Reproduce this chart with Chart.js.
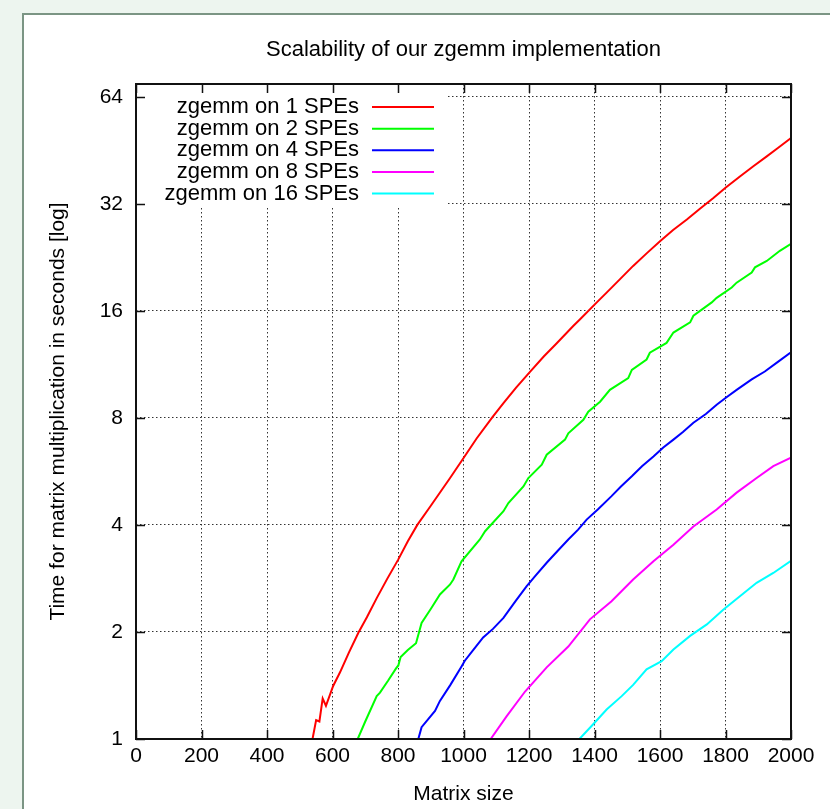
<!DOCTYPE html>
<html>
<head>
<meta charset="utf-8">
<script src="https://cdn.jsdelivr.net/npm/chart.js@4.4.1/dist/chart.umd.min.js"></script>
<style>
  html, body { margin: 0; padding: 0; background: #edf5ef; overflow: hidden; }
  #panel {
    position: absolute; left: 22px; top: 13px; width: 820px; height: 810px;
    background: #fff; border: 2px solid #7b9584;
  }
  #c { position: absolute; left: 0; top: 0; }
</style>
</head>
<body>
<div id="panel"></div>
<canvas id="c" width="830" height="809"></canvas>
<script>
const FONT = "'Liberation Sans', Arial, Helvetica, sans-serif";

// tick labels
const xTicks = [0, 200, 400, 600, 800, 1000, 1200, 1400, 1600, 1800, 2000];
const yTicks = [1, 2, 4, 8, 16, 32, 64];

// series (matrix size, seconds)
const size1 = [539, 550, 560, 570, 580, 602, 623, 650, 679, 705, 735, 767, 801, 830, 859, 898, 959, 994, 1040, 1089, 1122, 1160, 1203, 1245, 1284, 1335, 1356, 1407, 1437, 1478, 1518, 1560, 1600, 1640, 1682, 1720, 1763, 1800, 1844, 1885, 1926, 1960, 2000];
const time1 = [1.0, 1.13, 1.12, 1.30, 1.24, 1.41, 1.54, 1.75, 1.99, 2.2, 2.49, 2.82, 3.2, 3.6, 4.0, 4.5, 5.42, 6.05, 7.0, 8.05, 8.8, 9.72, 10.78, 11.9, 12.95, 14.5, 15.15, 16.9, 18.0, 19.65, 21.4, 23.25, 25.1, 27.0, 28.9, 30.9, 33.2, 35.5, 38.2, 40.8, 43.5, 45.9, 49.0];

const size2 = [677, 700, 735, 745, 770, 794, 801, 808, 830, 855, 872, 900, 928, 959, 969, 994, 1050, 1066, 1122, 1137, 1183, 1198, 1239, 1254, 1310, 1320, 1366, 1381, 1417, 1447, 1503, 1514, 1559, 1569, 1620, 1641, 1692, 1702, 1758, 1773, 1819, 1834, 1880, 1890, 1926, 1966, 2000];
const time2 = [1.0, 1.12, 1.32, 1.35, 1.46, 1.58, 1.61, 1.70, 1.78, 1.86, 2.12, 2.32, 2.55, 2.72, 2.81, 3.16, 3.64, 3.84, 4.37, 4.61, 5.13, 5.42, 5.91, 6.3, 6.95, 7.24, 7.9, 8.33, 8.88, 9.59, 10.35, 10.92, 11.67, 12.2, 13.0, 13.9, 14.85, 15.5, 16.9, 17.4, 18.6, 19.2, 20.5, 21.2, 22.1, 23.6, 24.7];

const size4 = [862, 872, 913, 928, 960, 994, 1004, 1030, 1060, 1090, 1122, 1160, 1193, 1220, 1254, 1290, 1320, 1350, 1376, 1410, 1452, 1480, 1514, 1545, 1580, 1610, 1641, 1670, 1702, 1740, 1773, 1800, 1834, 1880, 1920, 1960, 2000];
const time4 = [1.0, 1.08, 1.2, 1.28, 1.42, 1.6, 1.66, 1.78, 1.93, 2.04, 2.19, 2.45, 2.69, 2.88, 3.13, 3.4, 3.64, 3.88, 4.14, 4.42, 4.82, 5.12, 5.48, 5.85, 6.23, 6.6, 6.95, 7.3, 7.75, 8.2, 8.71, 9.1, 9.59, 10.26, 10.8, 11.5, 12.24];

const size8 = [1083, 1132, 1188, 1254, 1320, 1386, 1452, 1518, 1580, 1641, 1702, 1773, 1834, 1895, 1946, 2000];
const time8 = [1.0, 1.16, 1.36, 1.59, 1.82, 2.17, 2.44, 2.81, 3.16, 3.52, 3.96, 4.42, 4.93, 5.42, 5.85, 6.18];

const size16 = [1354, 1396, 1437, 1483, 1518, 1559, 1605, 1641, 1692, 1743, 1793, 1844, 1895, 1946, 2000];
const time16 = [1.0, 1.1, 1.21, 1.32, 1.42, 1.57, 1.655, 1.785, 1.95, 2.1, 2.31, 2.52, 2.75, 2.93, 3.17];

const labels = ["zgemm on 1 SPEs", "zgemm on 2 SPEs", "zgemm on 4 SPEs", "zgemm on 8 SPEs", "zgemm on 16 SPEs"];
const colors = ["#ff0000", "#00ff00", "#0000ff", "#ff00ff", "#00ffff"];
const sizes = [size1, size2, size4, size8, size16];
const times = [time1, time2, time4, time8, time16];

const datasets = labels.map((label, i) => ({
  label: label,
  data: sizes[i].map((n, j) => ({ x: n, y: times[i][j] })),
  borderColor: colors[i],
  borderWidth: 2,
  pointRadius: 0,
  tension: 0,
  fill: false
}));

// gnuplot look: opaque key, frame, inward ticks on all sides
const gnuplotLook = {
  id: "gnuplotLook",
  beforeDatasetsDraw(chart) {
    const { ctx, chartArea } = chart;
    ctx.save();
    ctx.fillStyle = "#fff";
    ctx.fillRect(chartArea.left + 1, chartArea.top + 1, 311, 121);
    ctx.restore();
  },
  afterDatasetsDraw(chart) {
    const { ctx, chartArea } = chart;
    const xs = chart.scales.x, ys = chart.scales.y;
    ctx.save();
    ctx.strokeStyle = "#111";
    ctx.lineWidth = 1.5;
    ctx.beginPath();
    xTicks.forEach(v => {
      const px = Math.round(xs.getPixelForValue(v)) + 0.5;
      ctx.moveTo(px, chartArea.bottom); ctx.lineTo(px, chartArea.bottom - 9);
      ctx.moveTo(px, chartArea.top); ctx.lineTo(px, chartArea.top + 9);
    });
    yTicks.forEach(v => {
      const py = Math.round(ys.getPixelForValue(v)) + 0.5;
      ctx.moveTo(chartArea.left, py); ctx.lineTo(chartArea.left + 9, py);
      ctx.moveTo(chartArea.right, py); ctx.lineTo(chartArea.right - 9, py);
    });
    ctx.stroke();
    ctx.lineWidth = 2;
    ctx.strokeRect(chartArea.left, chartArea.top, chartArea.right - chartArea.left, chartArea.bottom - chartArea.top);

    // key
    ctx.font = "22px " + FONT;
    ctx.fillStyle = "#000";
    ctx.textAlign = "right";
    ctx.textBaseline = "middle";
    chart.data.datasets.forEach((ds, i) => {
      const y = chartArea.top + 23 + i * 21.65;
      ctx.fillText(ds.label, chartArea.left + 223, y);
      ctx.strokeStyle = ds.borderColor;
      ctx.lineWidth = 2;
      ctx.beginPath();
      ctx.moveTo(chartArea.left + 236, y);
      ctx.lineTo(chartArea.left + 298, y);
      ctx.stroke();
    });
    ctx.restore();
  }
};

const font = { family: FONT, size: 21, weight: "normal" };

new Chart(document.getElementById("c").getContext("2d"), {
  type: "line",
  data: { datasets: datasets },
  options: {
    responsive: false,
    animation: false,
    layout: { padding: { left: 46, right: 39, top: 0, bottom: 2 } },
    plugins: {
      legend: { display: false },
      tooltip: { enabled: false },
      title: {
        display: true,
        text: "Scalability of our zgemm implementation",
        fullSize: false,
        color: "#000",
        font: { family: FONT, size: 22, weight: "normal" },
        padding: { top: 37, bottom: 20.6 }
      }
    },
    scales: {
      x: {
        type: "linear",
        min: 0,
        max: 2000,
        afterBuildTicks: s => { s.ticks = xTicks.map(v => ({ value: v })); },
        ticks: { color: "#000", font: font, padding: 5, maxRotation: 0, autoSkip: false, callback: v => String(v) },
        grid: { color: "#333", drawTicks: false },
        border: { display: false, dash: [1.5, 2.5] },
        title: { display: true, text: "Matrix size", color: "#000", font: font, padding: 0 },
        afterFit: s => { s.height = 68; }
      },
      y: {
        type: "logarithmic",
        min: 1,
        max: 69.5,
        afterBuildTicks: s => { s.ticks = yTicks.map(v => ({ value: v })); },
        ticks: { color: "#000", font: font, padding: 13, callback: v => String(v) },
        grid: { color: "#333", drawTicks: false },
        border: { display: false, dash: [1.5, 2.5] },
        title: { display: true, text: "Time for matrix multiplication in seconds [log]", color: "#000", font: font, padding: 0 },
        afterFit: s => { s.width = 90; }
      }
    }
  },
  plugins: [gnuplotLook]
});
</script>
</body>
</html>
